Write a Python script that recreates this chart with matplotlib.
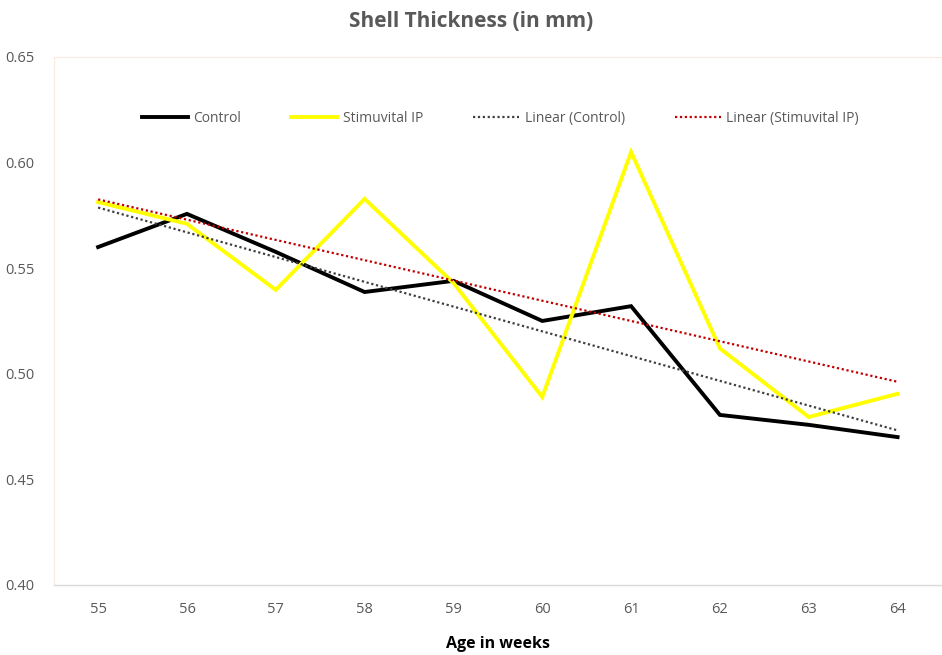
import numpy as np
import matplotlib
matplotlib.use("Agg")
import matplotlib.pyplot as plt

# data
weeks = [55, 56, 57, 58, 59, 60, 61, 62, 63, 64]
control = [0.560, 0.5757, 0.5577, 0.5387, 0.544, 0.525, 0.532, 0.4805, 0.4758, 0.470]
stimuvital = [0.5813, 0.571, 0.5397, 0.5828, 0.543, 0.489, 0.605, 0.512, 0.4795, 0.4905]
yticks = [0.40, 0.45, 0.50, 0.55, 0.60, 0.65]

plt.rcParams['font.family'] = ['Open Sans', 'DejaVu Sans']
grey = '#595959'

fig = plt.figure(figsize=(9.42, 6.55), dpi=100)
ax = fig.add_axes([0.057, 0.107, 0.943, 0.806])

x = np.arange(len(weeks))
ax.plot(x, control, color='black', lw=2.8, label='Control', solid_joinstyle='miter')
ax.plot(x, stimuvital, color='#FFFF00', lw=2.8, label='Stimuvital IP', solid_joinstyle='miter')

# linear trendlines like Excel
c_fit = np.polyfit(x, control, 1)
s_fit = np.polyfit(x, stimuvital, 1)
ax.plot(x, np.polyval(c_fit, x), color='#404040', lw=1.6, ls=(0, (1, 1.2)), label='Linear (Control)')
ax.plot(x, np.polyval(s_fit, x), color='#C00000', lw=1.6, ls=(0, (1, 1.2)), label='Linear (Stimuvital IP)')

ax.set_xlim(-0.5, len(weeks) - 0.5)
ax.set_ylim(0.40, 0.65)
ax.set_yticks(yticks)
ax.set_yticklabels([f"{v:.2f}" for v in yticks])
ax.set_xticks(x)
ax.set_xticklabels([str(w) for w in weeks])
ax.tick_params(length=0, colors=grey, labelsize=10.5)
ax.tick_params(axis='x', pad=12)
ax.tick_params(axis='y', pad=14)

for side in ['top', 'left', 'right']:
    ax.spines[side].set_color('#FBE9DD')
    ax.spines[side].set_linewidth(0.8)
ax.spines['bottom'].set_color('#D9D9D9')
ax.spines['bottom'].set_linewidth(1.0)

ax.set_xlabel('Age in weeks', fontsize=11.5, fontweight='bold', color='black', labelpad=14)
fig.suptitle('Shell Thickness (in mm)', fontsize=15, fontweight='bold', color=grey, y=0.983)

ax.legend(loc='upper center', bbox_to_anchor=(0.503, 0.922), ncol=4, frameon=False,
          fontsize=10, handlelength=3.3, columnspacing=3.6, handletextpad=0.4,
          labelcolor=grey)

fig.savefig('out.png', dpi=100)
